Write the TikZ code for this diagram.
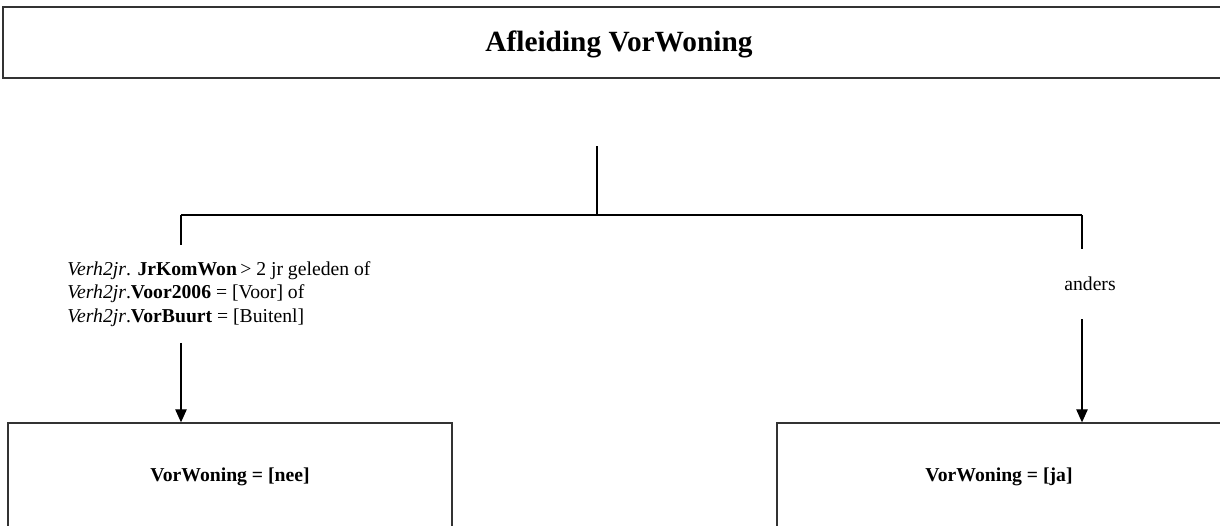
\documentclass[tikz,border=0pt]{standalone}
\usepackage{fontspec}
\setmainfont{Liberation Serif}
\usepackage{tikz}
\usetikzlibrary{arrows.meta,positioning}

\begin{document}
\begin{tikzpicture}[x=0.02cm, y=-0.02cm, >={Triangle[length=2.6mm, width=2.3mm]},
  frame/.style={rectangle, draw=black!80, line width=0.8pt},
  flow/.style={line width=0.6pt},
  cond/.style={font=\fontsize{11.2}{13.3}\selectfont, inner sep=0pt},
  result/.style={frame, minimum width=8.88cm, minimum height=2.16cm,
    font=\fontsize{11.2}{13.3}\selectfont\bfseries}]
\clip (0,0) rectangle (1220,525);

% Title
\node[frame, minimum width=24.64cm, minimum height=1.42cm, text height=0.52cm, text depth=0.18cm,
  font=\fontsize{16.7}{20}\selectfont\bfseries] (title) at (619,42.5) {Afleiding VorWoning};

% Split
\coordinate (top) at (597,146);
\coordinate (split) at (597,215);
\coordinate (lsplit) at (181,215);
\coordinate (rsplit) at (1082,215);

% Conditions
\node[cond, align=left, anchor=west, minimum height=1.94cm] (condL) at (67,294)
  {\textit{Verh2jr}. \textbf{JrKomWon}\,> 2 jr geleden of\\
   \textit{Verh2jr}.\textbf{Voor2006} = [Voor] of\\
   \textit{Verh2jr}.\textbf{VorBuurt} = [Buitenl]};
\node[cond, minimum height=1.4cm] (condR) at (1090,284) {anders};

% Results
\node[result] (nee) at (230,477) {VorWoning = [nee]};
\node[result] (ja) at (999,477) {VorWoning = [ja]};

% Connectors
\draw[flow] (top) -- (split);
\draw[flow] (lsplit) -- (rsplit);
\draw[flow] (lsplit) -- (condL.north -| lsplit);
\draw[flow, ->] (condL.south -| lsplit) -- (nee.north -| lsplit);
\draw[flow] (rsplit) -- (condR.north -| rsplit);
\draw[flow, ->] (condR.south -| rsplit) -- (ja.north -| rsplit);
\end{tikzpicture}
\end{document}
